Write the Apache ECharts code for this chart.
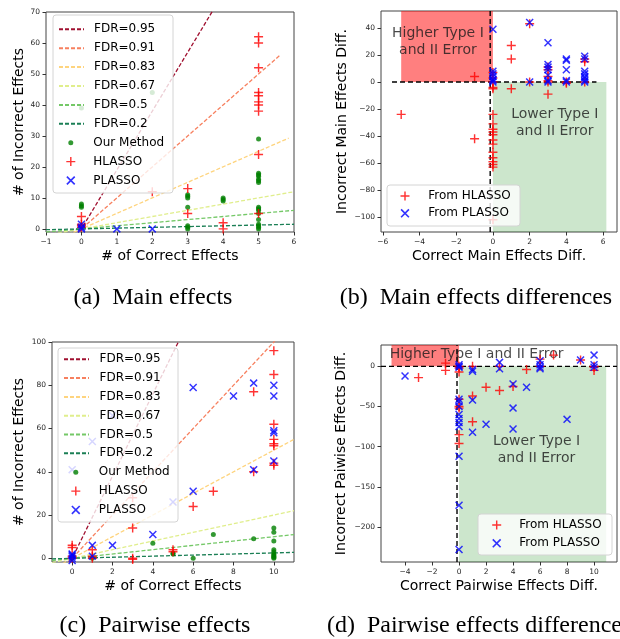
<!DOCTYPE html>
<html>
<head>
<meta charset="utf-8">
<script src="https://cdn.jsdelivr.net/npm/echarts@6/dist/echarts.min.js"></script>
<style>
html, body { margin: 0; padding: 0; background: #fff; }
#chart { width: 620px; height: 639px; }
</style>
</head>
<body>
<div id="chart"></div>
<script>
// ---- data ----
const fdrNames = ['FDR=0.95', 'FDR=0.91', 'FDR=0.83', 'FDR=0.67', 'FDR=0.5', 'FDR=0.2'];
// end points of the FDR reference lines
const fdrMainLines = [
	[[-1, -19], [4, 76]],
	[[-1, -10], [5.6, 56]],
	[[-1, -5], [5.85, 29.3]],
	[[-1, -2], [6, 12]],
	[[-1, -1], [6, 6]],
	[[-1, -0.25], [6, 1.5]]
];
const fdrPairLines = [
	[[-1, -19], [6, 114]],
	[[-1, -10], [11, 110]],
	[[-1, -5], [11, 55]],
	[[-1, -2], [11, 22]],
	[[-1, -1], [11, 11]],
	[[-1, -0.25], [11, 2.75]]
];

// (a) main effects: [correct, incorrect]
const mainOur = [[0, 7], [0, 7.5], [0, 8], [0, 39], [2, 44],
	[3, 11], [3, 10.5], [3, 10], [3, 7], [3, 1], [3, 0.5], [3, 0],
	[4, 10], [4, 9.5], [4, 9],
	[5, 29], [5, 18], [5, 17.5], [5, 17], [5, 16], [5, 15.5], [5, 15], [5, 7], [5, 6.5], [5, 6], [5, 5], [5, 3], [5, 1.5], [5, 1], [5, 0.5], [5, 0]];
const mainHL = [[0, 4], [0, 1.5], [0, 1], [0, 0.5], [2, 12], [3, 13], [3, 5], [4, 2], [4, 0],
	[5, 62], [5, 60], [5, 52], [5, 44], [5, 43], [5, 41], [5, 40], [5, 38], [5, 24], [5, 5]];
const mainPL = [[0, 1.5], [0, 0.5], [0, 0], [1, 0], [2, 0]];

// (b) main effects differences: [correct diff, incorrect diff]
const mainDiffHL = [[-5, -24], [-1, 4], [-1, -42],
	[0, 7], [0, 3], [0, 0], [0, -4], [0, -5], [0, -24], [0, -31], [0, -35], [0, -37], [0, -39], [0, -43], [0, -46], [0, -52], [0, -56], [0, -59], [0, -61], [0, -63], [0, -102],
	[1, 27], [1, 17], [1, -5], [2, 43], [2, 0],
	[3, 11], [3, 9], [3, 4], [3, 1], [3, 0], [3, -9], [4, 0], [4, -1], [5, 17], [5, 15], [5, 0]];
const mainDiffPL = [[0, 39], [0, 8], [0, 6], [0, 4], [0, 2], [0, 1], [0, 0], [2, 44], [2, 0],
	[3, 29], [3, 13], [3, 11], [3, 9], [3, 5], [3, 1], [3, 0],
	[4, 17], [4, 16], [4, 9], [4, 1], [4, 0],
	[5, 19], [5, 17], [5, 8], [5, 6], [5, 4], [5, 3], [5, 1], [5, 0]];

// (c) pairwise effects
const pairOur = [[0, 0], [1, 0], [4, 7], [5, 2], [5, 2.5], [6, 0], [7, 11], [9, 9],
	[10, 14], [10, 12], [10, 8], [10, 4], [10, 3], [10, 2], [10, 1.5], [10, 1], [10, 0.5], [10, 0]];
const pairHL = [[0, 6], [0, 5], [0, 1], [0, 0], [1, 4], [1, 1], [1, 0], [3, 28], [3, 14], [3, 0], [3, -0.5],
	[5, 4], [5, 3], [6, 24], [7, 31], [9, 77], [9, 40],
	[10, 96], [10, 85], [10, 62], [10, 55], [10, 53], [10, 52], [10, 44], [10, 43]];
const pairPL = [[0, 41], [0, 2], [0, 1.5], [0, 1], [0, 0], [0, -1], [1, 54], [1, 6], [1, 1], [2, 66], [2, 6],
	[4, 11], [5, 26], [6, 79], [6, 31], [8, 75], [9, 81], [9, 41],
	[10, 80], [10, 75], [10, 59], [10, 58], [10, 45]];

// (d) pairwise effects differences
const pairDiffHL = [[-3, -14], [-1, 4], [-1, -5], [0, 0], [0, -2], [0, -7], [0, -41], [0, -50], [0, -52], [0, -85], [0, -96],
	[1, 0], [1, -37], [1, -69], [2, -26], [3, 0], [3, -30], [4, -25], [5, -4],
	[6, 9], [6, 0], [7, 14], [9, 8], [10, 0], [10, -1], [10, -5]];
const pairDiffPL = [[-4, -12], [0, 2], [0, 0], [0, -1], [0, -41], [0, -44], [0, -50], [0, -60], [0, -65], [0, -70], [0, -75],
	[0, -112], [0, -173], [0, -228], [1, -4], [1, -6], [1, -42], [1, -82], [2, -72], [3, 5], [3, -3],
	[4, -22], [4, -52], [4, -78], [5, -26], [6, 7], [6, 2], [6, -1], [6, -3], [8, -66], [9, 8], [10, 14], [10, 2], [10, -1]];

// tick labels
const ticksAX = [-1, 0, 1, 2, 3, 4, 5, 6];
const ticksAY = [0, 10, 20, 30, 40, 50, 60, 70];
const ticksBX = [-6, -4, -2, 0, 2, 4, 6];
const ticksBY = [-100, -80, -60, -40, -20, 0, 20, 40];
const ticksCX = [0, 2, 4, 6, 8, 10];
const ticksCY = [0, 20, 40, 60, 80, 100];
const ticksDX = [-4, -2, 0, 2, 4, 6, 8, 10];
const ticksDY = [-200, -150, -100, -50, 0];

// ---- styles ----
const FONT = 'DejaVu Sans';
const FDR_COLORS = ['#a01030', '#f7805f', '#fed47e', '#e0ee8c', '#74c867', '#1b7f55'];
const PLUS = 'path://M4.2,0H5.8V10H4.2Z M0,4.2H10V5.8H0Z';
const CROSS = 'path://M0,1.3L1.3,0L10,8.7L8.7,10Z M8.7,0L10,1.3L1.3,10L0,8.7Z';

function tickFmt(v) {
	return v < 0 ? '\u2212' + Math.abs(v) : String(v);
}

function valueAxis(gridIndex, min, max, ticks, name, nameGap, isY) {
	return {
		type: 'value',
		gridIndex: gridIndex,
		min: min,
		max: max,
		name: name,
		nameLocation: 'middle',
		nameGap: nameGap,
		nameRotate: isY ? 90 : 0,
		nameTextStyle: { fontFamily: FONT, fontSize: 14, color: '#000' },
		axisLine: { show: false, onZero: false },
		axisTick: { show: true, length: 3.5, customValues: ticks, lineStyle: { color: '#333', width: 1 } },
		axisLabel: { customValues: ticks, formatter: tickFmt, fontFamily: FONT, fontSize: 7.5, color: '#262626', margin: 6 },
		splitLine: { show: false }
	};
}

function scatter(name, data, idx, kind) {
	const st = {
		our: { symbol: 'circle', size: 5, color: '#008000' },
		hl: { symbol: PLUS, size: 9, color: '#ff0000' },
		pl: { symbol: CROSS, size: 8, color: '#0000ff' }
	}[kind];
	return {
		type: 'scatter', name: name, data: data,
		xAxisIndex: idx, yAxisIndex: idx,
		symbol: st.symbol, symbolSize: st.size,
		itemStyle: { color: st.color },
		silent: true, z: 3
	};
}

function fdrSeries(lines, idx) {
	return lines.map(function(pts, i) {
		return {
			type: 'line', name: fdrNames[i], data: pts,
			xAxisIndex: idx, yAxisIndex: idx,
			symbol: 'none', silent: true, z: 2,
			lineStyle: { color: FDR_COLORS[i], width: 1.3, type: [4, 2] },
			itemStyle: { color: FDR_COLORS[i] }
		};
	});
}

function dashed(name, pts, idx) {
	return {
		type: 'line', name: name, data: pts,
		xAxisIndex: idx, yAxisIndex: idx,
		symbol: 'none', silent: true, z: 2,
		lineStyle: { color: '#000', width: 1.4, type: [5, 3] }
	};
}

function regions(name, idx, redRight, greenRight) {
	return {
		type: 'line', name: name, data: [],
		xAxisIndex: idx, yAxisIndex: idx,
		symbol: 'none', silent: true,
		markArea: {
			silent: true,
			data: [
				[{ xAxis: -5, yAxis: 0, itemStyle: { color: 'rgba(255,0,0,0.5)' } }, { xAxis: redRight }],
				[{ xAxis: 0, itemStyle: { color: 'rgba(0,128,0,0.2)' } }, { xAxis: greenRight, yAxis: 0 }]
			]
		}
	};
}

function notes(name, idx, items) {
	return {
		type: 'scatter', name: name, xAxisIndex: idx, yAxisIndex: idx,
		symbolSize: 1, itemStyle: { color: 'rgba(0,0,0,0)' }, silent: true, z: 2,
		label: {
			show: true, position: 'inside', fontFamily: FONT, fontSize: 14, lineHeight: 17, color: '#1a1a1a',
			formatter: function(p) { return p.name; }
		},
		data: items
	};
}

// the legend aligns its left edge to the drawn icon, so pass the icon's own left
function legendBlock(names, left, top, itemHeight, gap, pad, hideSymbol) {
	const lg = {
		orient: 'vertical', left: left, top: top, data: names,
		itemWidth: 25, itemHeight: itemHeight, itemGap: gap, padding: 0,
		selectedMode: false, z: 20,
		textStyle: { fontFamily: FONT, fontSize: 12, color: '#000', lineHeight: 14, padding: [0, 0, 0, pad] }
	};
	if (hideSymbol) lg.itemStyle = { color: 'rgba(0,0,0,0)', borderWidth: 0, opacity: 0 };
	return lg;
}

function legendBox(x, y, w, h) {
	return {
		type: 'rect', z: 10, silent: true,
		shape: { x: x, y: y, width: w, height: h, r: 3 },
		style: { fill: 'rgba(255,255,255,0.8)', stroke: '#d4d4d4', lineWidth: 1 }
	};
}

function caption(text, x, y, align) {
	return {
		type: 'text', x: x, y: y, z: 10, silent: true,
		style: { text: text, fontFamily: 'Liberation Serif', fontSize: 24, fill: '#000', align: align, verticalAlign: 'middle' }
	};
}

const chart = echarts.init(document.getElementById('chart'));

const series = [].concat(
	fdrSeries(fdrMainLines, 0),
	[scatter('Our Method', mainOur, 0, 'our'), scatter('HLASSO', mainHL, 0, 'hl'), scatter('PLASSO', mainPL, 0, 'pl')],
	[regions('areaB', 1, 0, 6.18),
		dashed('hB', [[-5.5, 0], [5.64, 0]], 1), dashed('vB', [[-0.15, -111], [-0.15, 52.5]], 1),
		notes('noteB', 1, [{ name: 'Higher Type I\nand II Error', value: [-3, 29.7] }, { name: 'Lower Type I\nand II Error', value: [3.37, -30.6] }]),
		scatter('From HLASSO', mainDiffHL, 1, 'hl'), scatter('From PLASSO', mainDiffPL, 1, 'pl')],
	fdrSeries(fdrPairLines, 2),
	[scatter('Our Method', pairOur, 2, 'our'), scatter('HLASSO', pairHL, 2, 'hl'), scatter('PLASSO', pairPL, 2, 'pl')],
	[regions('areaD', 3, 0, 10.9),
		dashed('hD', [[-5.78, 0], [11.7, 0]], 3), dashed('vD', [[-0.15, -243.6], [-0.15, 26.6]], 3),
		notes('noteD', 3, [{ name: 'Higher Type I and II Error', value: [1.3, 15] }, { name: 'Lower Type I\nand II Error', value: [5.74, -104.5] }]),
		scatter('From HLASSO', pairDiffHL, 3, 'hl'), scatter('From PLASSO', pairDiffPL, 3, 'pl')]
);

chart.setOption({
	animation: false,
	backgroundColor: '#fff',
	grid: [
		{ left: 46, top: 12, width: 248, height: 220, show: true, borderColor: '#444', borderWidth: 1 },
		{ left: 381, top: 11, width: 236, height: 221, show: true, borderColor: '#444', borderWidth: 1 },
		{ left: 52, top: 342, width: 242, height: 220, show: true, borderColor: '#444', borderWidth: 1 },
		{ left: 381, top: 345, width: 236, height: 217, show: true, borderColor: '#444', borderWidth: 1 }
	],
	xAxis: [
		valueAxis(0, -1, 6, ticksAX, '# of Correct Effects', 17, false),
		valueAxis(1, -6.1, 6.76, ticksBX, 'Correct Main Effects Diff.', 17, false),
		valueAxis(2, -1, 11, ticksCX, '# of Correct Effects', 17, false),
		valueAxis(3, -5.78, 11.7, ticksDX, 'Correct Pairwise Effects Diff.', 17, false)
	],
	yAxis: [
		valueAxis(0, -1, 70, ticksAY, '# of Incorrect Effects', 20, true),
		valueAxis(1, -111, 52.5, ticksBY, 'Incorrect Main Effects Diff.', 32, true),
		valueAxis(2, -1.7, 100, ticksCY, '# of Incorrect Effects', 26, true),
		valueAxis(3, -243.6, 26.6, ticksDY, 'Incorrect Paiwise Effects Diff.', 33, true)
	],
	legend: [
		legendBlock(fdrNames, 58, 22.3, 10, 4.9, 5, true),
		legendBlock(['Our Method'], 68.3, 135.7, 5, 4.9, 5),
		legendBlock(['HLASSO', 'PLASSO'], 66.3, 154.6, 9, 4.9, 5),
		legendBlock(fdrNames, 63, 352.3, 10, 4.8, 5.5, true),
		legendBlock(['Our Method'], 73.3, 465.3, 5, 4.8, 5.5),
		legendBlock(['HLASSO', 'PLASSO'], 71.3, 484.1, 9, 4.8, 5.5),
		legendBlock(['From HLASSO', 'From PLASSO'], 400.5, 189, 9, 3.3, 5.8),
		legendBlock(['From HLASSO', 'From PLASSO'], 492.2, 518, 9, 4.3, 5)
	],
	graphic: [
		legendBox(53, 15, 120, 178),
		legendBox(58, 348, 120, 174),
		legendBox(387, 185, 133, 41),
		legendBox(478, 514, 134, 41),
		caption('(a)\u2002Main effects', 153, 298, 'center'),
		caption('(b)\u2002Main effects differences', 476, 298, 'center'),
		caption('(c)\u2002Pairwise effects', 155, 626, 'center'),
		caption('(d)\u2002Pairwise effects differences', 327, 626, 'left')
	],
	series: series
});
</script>
</body>
</html>
